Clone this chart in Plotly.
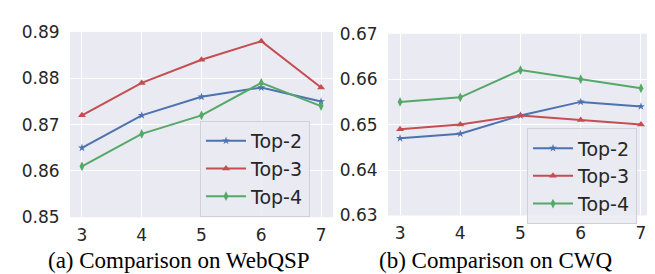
import plotly.graph_objects as go

x_vals = [3, 4, 5, 6, 7]
series_names = ["Top-2", "Top-3", "Top-4"]

webqsp_top2 = [0.865, 0.872, 0.876, 0.878, 0.875]
webqsp_top3 = [0.872, 0.879, 0.884, 0.888, 0.878]
webqsp_top4 = [0.861, 0.868, 0.872, 0.879, 0.874]

cwq_top2 = [0.647, 0.648, 0.652, 0.655, 0.654]
cwq_top3 = [0.649, 0.650, 0.652, 0.651, 0.650]
cwq_top4 = [0.655, 0.656, 0.662, 0.660, 0.658]

webqsp_ticks = [0.85, 0.86, 0.87, 0.88, 0.89]
cwq_ticks = [0.63, 0.64, 0.65, 0.66, 0.67]

titles = ["(a) Comparison on WebQSP", "(b) Comparison on CWQ"]

colors = ["#4C72B0", "#C44E52", "#55A868"]
symbols = ["star", "triangle-up", "diamond-tall"]
msizes = [6, 7, 7]

W, H = 655, 274
fig = go.Figure()

def px(x):
    return x / W

def py(y):
    return 1 - y / H

panels = [
    (webqsp_top2, webqsp_top3, webqsp_top4),
    (cwq_top2, cwq_top3, cwq_top4),
]
for p, data in enumerate(panels):
    xa = "x" if p == 0 else "x2"
    ya = "y" if p == 0 else "y2"
    lg = "legend" if p == 0 else "legend2"
    for i, vals in enumerate(data):
        fig.add_trace(go.Scatter(
            x=x_vals, y=vals, mode="lines+markers", name=series_names[i],
            xaxis=xa, yaxis=ya, legend=lg,
            line=dict(color=colors[i], width=2),
            marker=dict(symbol=symbols[i], size=msizes[i], color=colors[i]),
        ))

tickfont = dict(family="DejaVu Sans", size=17, color="#262626")
common_x = dict(range=[2.8, 7.2], tickvals=x_vals, showgrid=True, gridcolor="white",
                gridwidth=1.2, zeroline=False, showline=False, tickfont=tickfont,
                ticks="outside", ticklen=2, tickcolor="rgba(0,0,0,0)")
common_y = dict(showgrid=True, gridcolor="white", gridwidth=1.2, zeroline=False,
                showline=False, tickfont=tickfont, ticks="outside", ticklen=6,
                tickcolor="rgba(0,0,0,0)")

legend_common = dict(xanchor="left", yanchor="top",
                     bgcolor="rgba(234,234,242,0.85)", bordercolor="#D0D0D8", borderwidth=1,
                     font=dict(family="DejaVu Sans", size=19, color="#262626"),
                     tracegroupgap=0, itemwidth=40)

fig.update_layout(
    width=W, height=H,
    margin=dict(l=0, r=0, t=0, b=0),
    paper_bgcolor="white", plot_bgcolor="#EAEAF2",
    xaxis=dict(domain=[px(62), px(325)], anchor="y", **common_x),
    yaxis=dict(domain=[py(215), py(15)], anchor="x", range=[0.85, 0.89],
               tickvals=webqsp_ticks, ticktext=[f"{v:.2f}" for v in webqsp_ticks], **common_y),
    xaxis2=dict(domain=[px(380), px(645)], anchor="y2", **common_x),
    yaxis2=dict(domain=[py(213), py(17)], anchor="x2", range=[0.63, 0.67],
                tickvals=cwq_ticks, ticktext=[f"{v:.2f}" for v in cwq_ticks], **common_y),
    legend=dict(x=px(192), y=py(111), **legend_common),
    legend2=dict(x=px(519), y=py(119), **legend_common),
    showlegend=True,
)

fig.add_annotation(x=px(171), y=py(262), xref="paper", yref="paper", text=titles[0],
                   showarrow=False, xanchor="center", yanchor="middle",
                   font=dict(family="Liberation Serif", size=23, color="black"))
fig.add_annotation(x=px(488), y=py(262), xref="paper", yref="paper", text=titles[1],
                   showarrow=False, xanchor="center", yanchor="middle",
                   font=dict(family="Liberation Serif", size=23, color="black"))

fig.write_html("out.html")
